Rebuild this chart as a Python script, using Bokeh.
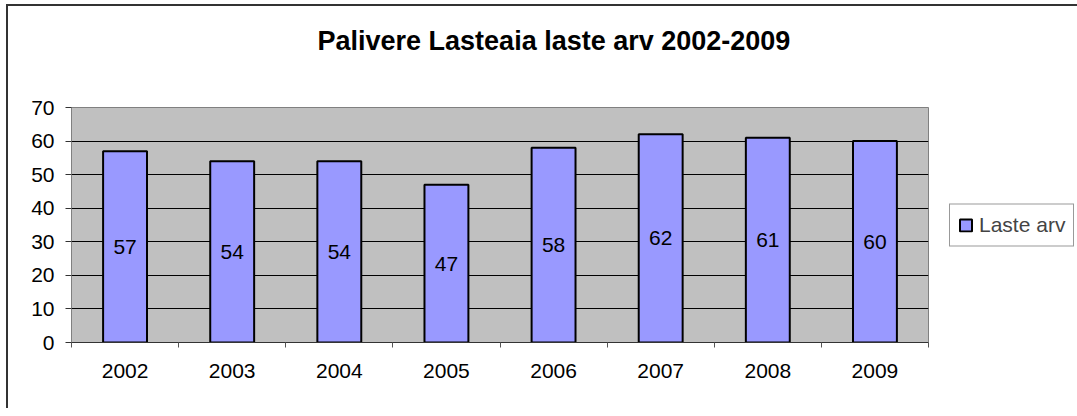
from bokeh.plotting import figure
from bokeh.models import FixedTicker, Legend, LegendItem, ColumnDataSource, Title, Range1d
from bokeh.core.properties import value
from bokeh.embed import file_html
from bokeh.resources import INLINE

# ---- data ----
years = ["2002", "2003", "2004", "2005", "2006", "2007", "2008", "2009"]
counts = [57, 54, 54, 47, 58, 62, 61, 60]
y_ticks = [0, 10, 20, 30, 40, 50, 60, 70]
series_name = "Laste arv"
title_text = "Palivere Lasteaia laste arv 2002-2009"

FONT = "Liberation Sans"

xs = list(range(1, len(years) + 1))
src = ColumnDataSource(dict(
    x=xs,
    top=counts,
    mid=[c / 2 for c in counts],
    label=[str(c) for c in counts],
))

p = figure(
    output_backend="svg", toolbar_location=None,
    x_range=Range1d(0.5, len(years) + 0.5),
    y_range=Range1d(y_ticks[0], y_ticks[-1]),
    frame_width=857, frame_height=235,
    min_border_left=63, min_border_right=141,
    min_border_top=101, min_border_bottom=66,
    background_fill_color="#C0C0C0",
    border_fill_color="white",
    outline_line_color="#808080",
    title=None,
)
p.styles = {"border-top": "2px solid #333333", "border-left": "2px solid #333333",
            "margin-left": "6px", "margin-top": "4px"}

t = Title(text=title_text, align="left", offset=246, standoff=0, vertical_align="bottom",
          padding=dict(left=0, right=0, top=0, bottom=52),
          text_font=FONT, text_font_size="27px", text_font_style="bold", text_color="black")
p.add_layout(t, "above")

# bars
r = p.vbar(x="x", top="top", width=0.41, source=src,
           fill_color="#9999FF", line_color="black", line_width=2)

# data labels
p.text(x="x", y="mid", text="label", source=src,
       text_align="center", text_baseline="middle",
       text_font=value(FONT), text_font_size="21px", text_color="black")

# y axis
p.yaxis.ticker = FixedTicker(ticks=y_ticks)
p.yaxis.major_tick_out = 6
p.yaxis.major_tick_in = 0
p.yaxis.minor_tick_out = 0
p.yaxis.minor_tick_in = 0
p.yaxis.axis_line_color = "#808080"
p.yaxis.major_tick_line_color = "#333333"
p.yaxis.major_label_standoff = 11
p.yaxis.major_label_text_font = FONT
p.yaxis.major_label_text_font_size = "21px"
p.yaxis.major_label_text_color = "black"

p.ygrid.ticker = FixedTicker(ticks=y_ticks)
p.ygrid.grid_line_color = "black"
p.ygrid.grid_line_width = 1
p.xgrid.grid_line_color = None

# x axis: labels at category centres, ticks at category boundaries
p.xaxis.ticker = FixedTicker(ticks=xs, minor_ticks=[i + 0.5 for i in range(len(years) + 1)])
p.xaxis.major_label_overrides = {x: y for x, y in zip(xs, years)}
p.xaxis.major_tick_out = 0
p.xaxis.major_tick_in = 0
p.xaxis.minor_tick_out = 5
p.xaxis.minor_tick_in = 0
p.xaxis.minor_tick_line_color = "#555555"
p.xaxis.axis_line_color = "#333333"
p.xaxis.major_label_standoff = 16
p.xaxis.major_label_text_font = FONT
p.xaxis.major_label_text_font_size = "21px"
p.xaxis.major_label_text_color = "black"

legend = Legend(items=[LegendItem(label=series_name, renderers=[r])],
                location="center_left", orientation="vertical",
                glyph_width=15, glyph_height=15, label_standoff=6,
                label_height=25, padding=8, margin=21, spacing=0,
                label_text_font=FONT, label_text_font_size="21px",
                border_line_color="#333333", border_line_width=1,
                background_fill_color="white", background_fill_alpha=1)
p.add_layout(legend, "right")

open("out.html", "w").write(file_html(p, INLINE))
